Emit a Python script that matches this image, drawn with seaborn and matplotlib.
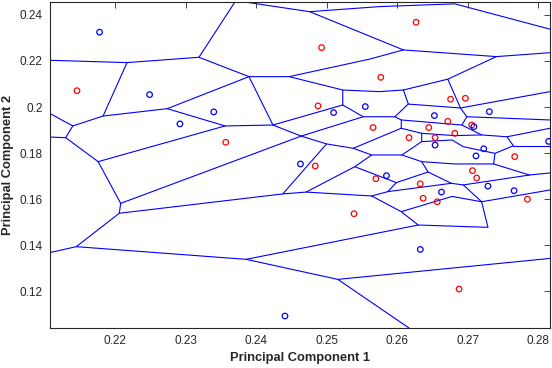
import matplotlib
matplotlib.use("Agg")
import matplotlib.pyplot as plt
import seaborn as sns
import pandas as pd

# ---- data -------------------------------------------------------------
red_x = [0.2146, 0.2493, 0.2357, 0.2488, 0.2566, 0.2484, 0.2577, 0.2627, 0.2676,
         0.2697, 0.2645, 0.2672, 0.2706, 0.2617, 0.2654, 0.2682, 0.2767, 0.2707,
         0.2713, 0.2570, 0.2633, 0.2637, 0.2657, 0.2785, 0.2688, 0.2539]
red_y = [0.2071, 0.2258, 0.1847, 0.2005, 0.1911, 0.1744, 0.2129, 0.2368, 0.2034,
         0.2038, 0.1911, 0.1938, 0.1922, 0.1867, 0.1867, 0.1886, 0.1785, 0.1724,
         0.1692, 0.1689, 0.1667, 0.1604, 0.1589, 0.1600, 0.1210, 0.1537]
blue_x = [0.2178, 0.2249, 0.2340, 0.2292, 0.2510, 0.2555, 0.2463, 0.2441, 0.2653,
          0.2731, 0.2709, 0.2654, 0.2723, 0.2712, 0.2815, 0.2585, 0.2663, 0.2729,
          0.2766, 0.2633]
blue_y = [0.2325, 0.2054, 0.1979, 0.1927, 0.1976, 0.2002, 0.1753, 0.1093, 0.1963,
          0.1980, 0.1915, 0.1835, 0.1819, 0.1788, 0.1851, 0.1702, 0.1631, 0.1657,
          0.1637, 0.1382]

# cell-boundary polylines (data units)
edges_x = [
    [0.2107, 0.2217, 0.2319, 0.2390, 0.2447, 0.2561, 0.2609],
    [0.2319, 0.2370],
    [0.2217, 0.2183],
    [0.2107, 0.2140, 0.2183, 0.2274, 0.2390],
    [0.2140, 0.2130, 0.2107],
    [0.2130, 0.2176, 0.2356],
    [0.2274, 0.2356, 0.2424, 0.2464],
    [0.2390, 0.2424],
    [0.2176, 0.2208, 0.2206, 0.2145, 0.2107],
    [0.2208, 0.2464],
    [0.2206, 0.2438],
    [0.2145, 0.2386, 0.2516, 0.2817],
    [0.2516, 0.2617],
    [0.2447, 0.2523, 0.2575, 0.2609],
    [0.2523, 0.2523, 0.2424],
    [0.2523, 0.2552, 0.2597],
    [0.2464, 0.2552],
    [0.2464, 0.2500, 0.2538],
    [0.2500, 0.2438, 0.2471, 0.2564],
    [0.2384, 0.2476, 0.2575, 0.2682, 0.2817],
    [0.2476, 0.2609, 0.2741],
    [0.2386, 0.2630, 0.2606, 0.2564],
    [0.2630, 0.2729, 0.2720, 0.2817],
    # right-hand dense region
    [0.2609, 0.2672, 0.2741, 0.2817],
    [0.2609, 0.2616, 0.2597, 0.2606, 0.2606],
    [0.2672, 0.2690, 0.2699, 0.2692, 0.2720, 0.2756, 0.2817],
    [0.2616, 0.2690, 0.2817],
    [0.2699, 0.2817],
    [0.2606, 0.2692],
    [0.2538, 0.2606, 0.2635, 0.2682, 0.2720],
    [0.2635, 0.2635, 0.2678, 0.2694, 0.2739, 0.2765, 0.2756],
    [0.2765, 0.2817],
    [0.2739, 0.2737, 0.2788, 0.2817],
    [0.2538, 0.2564, 0.2607, 0.2635, 0.2682, 0.2737],
    [0.2607, 0.2635],
    [0.2471, 0.2540, 0.2564],
    [0.2540, 0.2599, 0.2644, 0.2635],
    [0.2644, 0.2677, 0.2694, 0.2788],
    [0.2694, 0.2720],
    [0.2599, 0.2587, 0.2564],
    [0.2587, 0.2677],
    [0.2606, 0.2678, 0.2720],
]
edges_y = [
    [0.2203, 0.2193, 0.2216, 0.2132, 0.2132, 0.2208, 0.2248],
    [0.2216, 0.2456],
    [0.2193, 0.1961],
    [0.1973, 0.1918, 0.1961, 0.1993, 0.2132],
    [0.1918, 0.1867, 0.1870],
    [0.1867, 0.1763, 0.1918],
    [0.1993, 0.1918, 0.1922, 0.1874],
    [0.2132, 0.1922],
    [0.1763, 0.1582, 0.1539, 0.1394, 0.1368],
    [0.1582, 0.1874],
    [0.1539, 0.1623],
    [0.1394, 0.1339, 0.1252, 0.1343],
    [0.1252, 0.1041],
    [0.2132, 0.2074, 0.2067, 0.2074],
    [0.2074, 0.2009, 0.1922],
    [0.2009, 0.1958, 0.1958],
    [0.1874, 0.1958],
    [0.1874, 0.1840, 0.1821],
    [0.1840, 0.1623, 0.1631, 0.1614],
    [0.2456, 0.2414, 0.2436, 0.2448, 0.2338],
    [0.2414, 0.2248, 0.2219],
    [0.1339, 0.1488, 0.1546, 0.1614],
    [0.1488, 0.1478, 0.1589, 0.1640],
    # right-hand dense region
    [0.2074, 0.2121, 0.2219, 0.2236],
    [0.2074, 0.2013, 0.1958, 0.1944, 0.1908],
    [0.2121, 0.1996, 0.1958, 0.1922, 0.1879, 0.1871, 0.1908],
    [0.2013, 0.1996, 0.2067],
    [0.1958, 0.1944],
    [0.1944, 0.1922],
    [0.1821, 0.1908, 0.1886, 0.1876, 0.1879],
    [0.1886, 0.1850, 0.1857, 0.1828, 0.1799, 0.1832, 0.1871],
    [0.1832, 0.1832],
    [0.1799, 0.1753, 0.1705, 0.1714],
    [0.1821, 0.1792, 0.1792, 0.1763, 0.1753, 0.1753],
    [0.1792, 0.1850],
    [0.1631, 0.1741, 0.1792],
    [0.1741, 0.1672, 0.1718, 0.1763],
    [0.1718, 0.1669, 0.1662, 0.1705],
    [0.1662, 0.1589],
    [0.1672, 0.1633, 0.1614],
    [0.1633, 0.1669],
    [0.1546, 0.1612, 0.1589],
]

x_ticks = [0.22, 0.23, 0.24, 0.25, 0.26, 0.27, 0.28]
y_ticks = [0.12, 0.14, 0.16, 0.18, 0.20, 0.22, 0.24]
y_tick_labels = ["0.12", "0.14", "0.16", "0.18", "0.2", "0.22", "0.24"]

# ---- plot -------------------------------------------------------------
sns.set_style("white")
plt.rcParams["font.family"] = ["Liberation Sans", "DejaVu Sans"]

fig = plt.figure(figsize=(5.52, 3.68), dpi=100)
ax = fig.add_axes([49.5 / 552, 1 - 328 / 368, 500.5 / 552, 326 / 368])

for ex, ey in zip(edges_x, edges_y):
    ax.plot(ex, ey, color=(0, 0, 1), lw=0.8, solid_capstyle="round", zorder=2)

pts = pd.DataFrame({
    "x": red_x + blue_x,
    "y": red_y + blue_y,
    "cls": ["r"] * len(red_x) + ["b"] * len(blue_x),
})
for cls, col in [("r", (1, 0, 0)), ("b", (0, 0, 1))]:
    sub = pts[pts.cls == cls]
    sns.scatterplot(data=sub, x="x", y="y", ax=ax, marker="o", s=16,
                    facecolors="none", edgecolor=col, linewidth=0.9,
                    legend=False, zorder=3)

ax.set_xlim(0.2107, 0.2817)
ax.set_ylim(0.1041, 0.2456)
ax.set_xticks(x_ticks)
ax.set_xticklabels([f"{v:.2f}" for v in x_ticks])
ax.set_yticks(y_ticks)
ax.set_yticklabels(y_tick_labels)
ax.tick_params(direction="in", length=4, width=0.6, top=True, right=True,
               labelsize=8.5, colors="#262626", pad=5)
for sp in ax.spines.values():
    sp.set_linewidth(0.8)
    sp.set_color("#262626")
    sp.set_visible(True)

ax.set_xlabel("Principal Component 1", fontsize=9.3, fontweight="bold",
              color="#262626", labelpad=4)
ax.set_ylabel("Principal Component 2", fontsize=9.3, fontweight="bold",
              color="#262626", labelpad=4)

fig.savefig("out.png", dpi=100)
